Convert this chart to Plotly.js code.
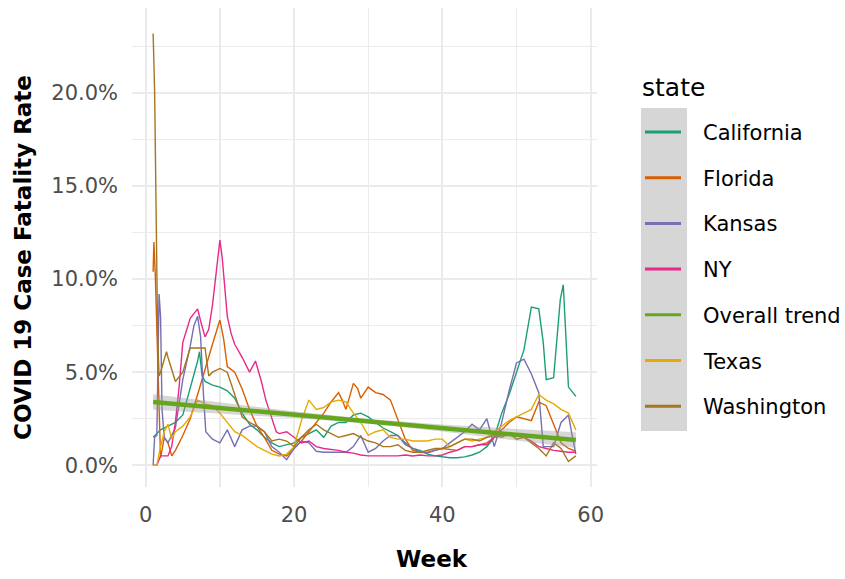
<!DOCTYPE html>
<html>
<head>
<meta charset="utf-8">
<script src="https://cdn.plot.ly/plotly-3.0.1.min.js"></script>
<style>
  html, body { margin: 0; padding: 0; background: #ffffff; }
  #chart { width: 845px; height: 579px; }
</style>
</head>
<body>
<div id="chart"></div>
<script>
// Weekly COVID-19 case fatality rate (%) by state, with an overall linear trend.

const caWeeks = [1,2,3,4,5,6,7,7.25,7.6,8,9,10,11,12,13,14,15,16,17,18,19,20,21,22,23,24,25,26,27,28,29,30,31,32,33,34,35,36,37,38,39,40,41,42,43,44,45,46,47,48,49,50,51,52,53,53.6,54,55,55.9,56.3,57,58];
const caCfr   = [1.5,1.9,2.1,2.3,2.7,4.1,5.6,6.1,4.8,4.5,4.3,4.2,4.0,3.6,2.8,2.2,1.9,1.5,1.2,1.0,1.1,1.2,1.5,1.7,1.9,1.5,2.1,2.3,2.3,2.7,2.8,2.6,2.3,2.0,1.8,1.6,1.2,0.9,0.8,0.6,0.5,0.45,0.4,0.4,0.45,0.55,0.7,1.0,1.5,2.8,3.8,5.0,6.2,8.5,8.4,6.6,4.6,4.7,8.9,9.7,4.2,3.7];

const flWeeks = [1,1.1,1.3,1.5,1.7,2,2.5,3,3.5,4,5,6,7,8,9,10,10.5,11,12,13,14,15,16,17,18,19,20,21,22,23,24,25,26,26.5,27,28,28.6,29,30,31,32,33,34,35,36,37,38,39,40,41,42,43,44,45,46,47,48,49,50,51,52,53,54,55,56,57,58];
const flCfr   = [10.4,12.0,10.1,7.1,4.0,0.4,1.5,1.2,0.5,0.8,1.6,2.5,3.8,5.2,6.5,7.8,6.8,5.3,5.0,4.1,3.0,2.1,1.5,0.8,0.6,0.5,0.9,1.3,1.8,2.3,2.8,3.4,3.9,3.5,3.0,4.4,4.1,3.6,4.2,3.9,3.8,3.5,2.4,1.4,0.8,0.7,0.65,0.8,0.9,0.85,0.8,1.0,1.0,1.1,1.2,1.5,1.9,2.3,2.6,2.5,2.4,3.4,3.2,2.2,1.2,0.9,0.75];

const ksWeeks = [1,1.2,1.5,1.8,2,2.2,2.5,3,4,5,6,6.5,7,7.4,7.8,8.1,9,10,11,11.5,12,13,14,15,16,17,18,19,20,21,22,23,24,25,26,27,28,29,30,31,32,33,34,35,36,37,38,39,40,41,42,43,44,45,46,47,48,49,50,51,52,53,53.6,55,56,57,57.5,58];
const ksCfr   = [0.0,1.5,1.6,9.2,8.0,3.0,1.5,1.2,2.0,4.6,6.4,7.5,8.0,6.9,3.7,1.8,1.4,1.2,1.9,1.4,1.0,1.9,2.1,2.1,1.8,1.0,0.7,0.3,0.9,1.3,1.2,0.75,0.7,0.7,0.7,0.7,1.0,1.6,0.7,0.9,1.3,1.6,1.6,1.1,0.9,0.7,0.7,0.8,0.9,1.2,1.5,1.8,2.2,1.9,2.5,1.0,2.3,4.0,5.5,5.7,4.9,3.9,1.0,1.0,2.3,2.7,1.6,0.6];

const nyWeeks = [1,1.5,2,3,3.5,4,4.5,5,6,7,7.5,8,8.5,9,9.6,10,10.3,11,11.5,12,13,14,14.8,15.6,16.2,17,17.6,18,19,20,21,22,23,24,25,26,27,28,29,30,31,32,33,34,35,36,37,38,39,40,41,42,43,44,45,46,47,48,49,50,51,52,53,54,55,56,57,58];
const nyCfr   = [0.0,0.0,0.5,0.5,1.0,2.3,4.2,6.6,7.9,8.4,7.6,6.9,7.3,8.6,10.7,12.1,11.2,8.0,7.1,6.5,5.8,5.0,5.6,4.5,3.5,2.5,1.8,1.7,1.8,1.5,1.2,1.3,1.0,0.9,0.85,0.8,0.7,0.65,0.55,0.5,0.5,0.5,0.5,0.5,0.55,0.5,0.55,0.5,0.5,0.55,0.7,0.8,1.0,1.0,1.1,1.1,1.5,1.6,1.7,1.6,1.5,1.3,1.0,0.9,0.8,0.75,0.7,0.7];

const txWeeks = [1,1.5,2,2.5,3,3.5,4,5,6,7,8,9,10,11,12,13,14,15,16,17,18,19,20,21,22,23,24,25,26,27,28,29,30,31,32,33,34,35,36,37,38,39,40,41,42,43,44,45,46,47,48,49,50,51,52,53,54,55,56,57,58];
const txCfr   = [0.0,0.0,1.0,1.8,2.2,1.4,1.8,2.1,2.6,3.5,3.3,3.2,2.8,2.3,1.8,1.6,1.3,1.0,0.8,0.6,0.5,0.6,1.0,2.4,3.5,3.0,3.1,3.4,3.5,3.4,2.8,2.3,1.6,1.8,1.9,1.5,1.4,1.4,1.3,1.3,1.3,1.4,1.4,1.0,1.2,1.4,1.3,1.4,1.5,1.8,2.1,2.4,2.6,2.8,3.0,3.8,3.5,3.3,3.0,2.8,1.9];

const waWeeks = [1,1.2,1.4,1.6,1.8,2,2.8,3,4,5,6,7,8,8.5,9,10,11,12,13,14,15,16,17,18,19,20,21,22,23,24,25,26,27,28,29,30,31,32,33,34,35,36,37,38,39,40,41,42,43,44,45,46,47,48,49,50,51,52,53,54,55,56,57,58];
const waCfr   = [23.2,20.1,13.8,7.0,4.8,5.0,6.1,5.8,4.5,5.0,6.3,6.3,6.3,4.8,5.0,5.2,5.0,3.8,2.6,2.3,2.1,1.8,1.3,1.4,1.3,1.0,1.5,1.9,2.2,1.9,1.7,1.5,1.6,1.7,1.5,1.3,1.2,1.0,1.0,1.1,0.8,0.7,0.7,0.8,0.9,0.9,1.0,1.2,1.4,1.4,1.3,1.5,1.6,1.5,1.7,1.4,1.5,1.2,0.9,0.5,1.2,0.9,0.2,0.5];

// Overall linear trend and its confidence band
const trendWeeks = [1, 58];
const trendCfr   = [3.4, 1.35];
const bandWeeks  = [1, 10, 20, 30, 40, 50, 58];
const bandUpper  = [3.82, 3.38, 2.90, 2.48, 2.19, 1.95, 1.77];
const bandLower  = [2.98, 2.78, 2.54, 2.24, 1.81, 1.33, 0.93];

const legendNames  = ['California', 'Florida', 'Kansas', 'NY', 'Overall trend', 'Texas', 'Washington'];
const legendColors = ['#1b9e77', '#d95f02', '#7570b3', '#e7298a', '#66a61e', '#e6ab02', '#a6761d'];

const states = [
  {x: caWeeks, y: caCfr, color: '#1b9e77', name: 'California'},
  {x: flWeeks, y: flCfr, color: '#d95f02', name: 'Florida'},
  {x: ksWeeks, y: ksCfr, color: '#7570b3', name: 'Kansas'},
  {x: nyWeeks, y: nyCfr, color: '#e7298a', name: 'NY'},
  {x: txWeeks, y: txCfr, color: '#e6ab02', name: 'Texas'},
  {x: waWeeks, y: waCfr, color: '#a6761d', name: 'Washington'}
];

const traces = states.map(s => ({
  type: 'scatter', mode: 'lines', x: s.x, y: s.y, name: s.name,
  line: {color: s.color, width: 1.4}, hoverinfo: 'x+y+name'
}));

traces.push({
  type: 'scatter', mode: 'lines', x: bandWeeks, y: bandLower,
  line: {width: 0, color: 'rgba(0,0,0,0)'}, hoverinfo: 'skip'
});
traces.push({
  type: 'scatter', mode: 'lines', x: bandWeeks, y: bandUpper,
  fill: 'tonexty', fillcolor: 'rgba(153,153,153,0.4)',
  line: {width: 0, color: 'rgba(0,0,0,0)'}, hoverinfo: 'skip'
});
traces.push({
  type: 'scatter', mode: 'lines', x: trendWeeks, y: trendCfr, name: 'Overall trend',
  line: {color: '#66a61e', width: 4.5}
});

// Plot panel geometry in pixels
const W = 845, H = 579;
const M = {l: 132, r: 248, t: 8, b: 92};
const PW = W - M.l - M.r, PH = H - M.t - M.b;
const px = v => (v - M.l) / PW;
const py = v => (H - M.b - v) / PH;

const FONT = 'DejaVu Sans, Verdana, sans-serif';
const shapes = [];
const annotations = [];

// Legend: grey key column, line swatches and labels
shapes.push({
  type: 'rect', xref: 'paper', yref: 'paper', layer: 'above',
  x0: px(641), x1: px(687), y0: py(108), y1: py(431),
  fillcolor: '#d6d6d6', line: {width: 0}
});
legendNames.forEach((name, i) => {
  const yc = 132 + i * 45.7;
  shapes.push({
    type: 'line', xref: 'paper', yref: 'paper', layer: 'above',
    x0: px(645), x1: px(681), y0: py(yc), y1: py(yc),
    line: {color: legendColors[i], width: 3}
  });
  annotations.push({
    xref: 'paper', yref: 'paper', x: px(701), y: py(yc + 1),
    xanchor: 'left', yanchor: 'middle', showarrow: false, text: name,
    font: {family: FONT, size: 21, color: '#000000'}
  });
});
annotations.push({
  xref: 'paper', yref: 'paper', x: px(640), y: py(87),
  xanchor: 'left', yanchor: 'middle', showarrow: false, text: 'state',
  font: {family: FONT, size: 25, color: '#000000'}
});

// Axis titles
annotations.push({
  xref: 'paper', yref: 'paper', x: px(432), y: py(559),
  xanchor: 'center', yanchor: 'middle', showarrow: false, text: '<b>Week</b>',
  font: {family: FONT, size: 23, color: '#000000'}
});
annotations.push({
  xref: 'paper', yref: 'paper', x: px(23), y: py(258), textangle: -90,
  xanchor: 'center', yanchor: 'middle', showarrow: false, text: '<b>COVID 19 Case Fatality Rate</b>',
  font: {family: FONT, size: 23, color: '#000000'}
});

const tickFont = {family: FONT, size: 21, color: '#4d4d4d'};

const layout = {
  width: W, height: H,
  margin: M,
  paper_bgcolor: '#ffffff', plot_bgcolor: '#ffffff',
  showlegend: false,
  xaxis: {
    range: [-1.85, 60.85], tickmode: 'linear', tick0: 0, dtick: 20,
    showgrid: true, gridcolor: '#ebebeb', gridwidth: 2,
    minor: {tickmode: 'linear', tick0: 0, dtick: 10, showgrid: true, gridcolor: '#ebebeb', gridwidth: 1.3},
    zeroline: false, showline: false, ticks: '',
    tickfont: tickFont, ticklabelstandoff: 13
  },
  yaxis: {
    range: [-1.17, 24.57], tickmode: 'linear', tick0: 0, dtick: 5,
    tickformat: '.1f', ticksuffix: '%',
    showgrid: true, gridcolor: '#ebebeb', gridwidth: 2,
    minor: {tickmode: 'linear', tick0: 0, dtick: 2.5, showgrid: true, gridcolor: '#ebebeb', gridwidth: 1.3},
    zeroline: false, showline: false, ticks: '',
    tickfont: tickFont, ticklabelstandoff: 13
  },
  shapes: shapes,
  annotations: annotations
};

Plotly.newPlot('chart', traces, layout, {displayModeBar: false, staticPlot: true});
</script>
</body>
</html>
